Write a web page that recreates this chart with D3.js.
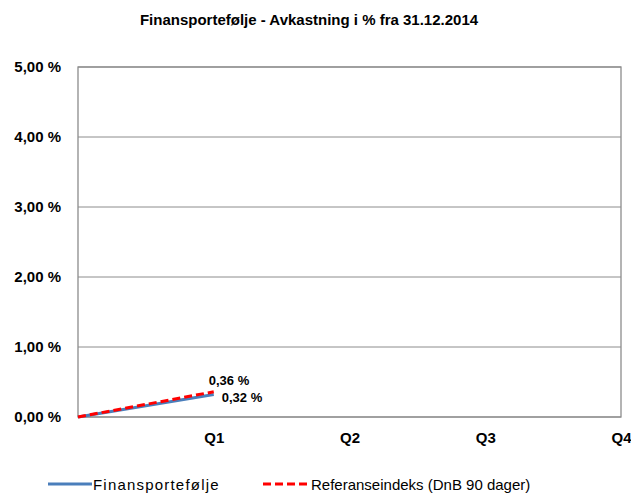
<!DOCTYPE html>
<html>
<head>
<meta charset="utf-8">
<script src="https://cdn.jsdelivr.net/npm/d3@7"></script>
<style>
body { margin: 0; background: #fff; }
text { font-family: "Liberation Sans", Arial, sans-serif; }
</style>
</head>
<body>
<div id="chart"></div>
<script>
var quarters = ['', 'Q1', 'Q2', 'Q3', 'Q4'];
var yTicks = [0, 1, 2, 3, 4, 5];
var portfolio = [0, 0.32];
var reference = [0, 0.36];
var seriesNames = ['Finansportefølje', 'Referanseindeks (DnB 90 dager)'];

var width = 631, height = 493;
var margin = { top: 67, right: 10, bottom: 76, left: 78 };
var w = width - margin.left - margin.right,
    h = height - margin.top - margin.bottom;

var svg = d3.select('#chart').append('svg')
    .attr('width', width)
    .attr('height', height);

svg.append('text')
    .attr('x', 309)
    .attr('y', 25)
    .attr('text-anchor', 'middle')
    .style('font-size', '15px')
    .style('font-weight', 'bold')
    .text('Finansportefølje - Avkastning i % fra 31.12.2014');

var g = svg.append('g')
    .attr('transform', 'translate(' + margin.left + ',' + margin.top + ')');

var x = d3.scalePoint().domain(d3.range(quarters.length)).range([0, w]);
var y = d3.scaleLinear().domain([0, 5]).range([h, 0]);

// gridlines
g.selectAll('.grid')
    .data(yTicks)
    .enter().append('line')
    .attr('x1', 0).attr('x2', w)
    .attr('y1', function(d) { return y(d); })
    .attr('y2', function(d) { return y(d); })
    .style('stroke', '#8c8c8c')
    .style('stroke-width', 1);

g.append('rect')
    .attr('width', w).attr('height', h)
    .style('fill', 'none')
    .style('stroke', '#8c8c8c')
    .style('stroke-width', 1.3);

var fmt = function(v) { return d3.format('.2f')(v).replace('.', ',') + ' %'; };

// y axis
var yAxis = g.append('g')
    .call(d3.axisLeft(y).tickValues(yTicks).tickSize(0).tickPadding(17).tickFormat(fmt));
yAxis.select('.domain').remove();
yAxis.selectAll('text')
    .style('font-size', '15px')
    .style('font-weight', 'bold')
    .style('fill', '#000');

// x axis
var xAxis = g.append('g')
    .attr('transform', 'translate(0,' + h + ')')
    .call(d3.axisBottom(x).tickSize(0).tickPadding(15)
        .tickFormat(function(d) { return quarters[d]; }));
xAxis.select('.domain').remove();
xAxis.selectAll('text')
    .style('font-size', '15px')
    .style('font-weight', 'bold')
    .style('fill', '#000');

var line = d3.line()
    .x(function(d, i) { return x(i); })
    .y(function(d) { return y(d); });

g.append('path')
    .datum(portfolio)
    .attr('d', line)
    .style('fill', 'none')
    .style('stroke', '#4a7ebb')
    .style('stroke-width', 3);

g.append('path')
    .datum(reference)
    .attr('d', line)
    .style('fill', 'none')
    .style('stroke', '#ff0000')
    .style('stroke-width', 3)
    .style('stroke-dasharray', '8,4');

// value labels
g.append('text')
    .attr('x', x(1) - 5)
    .attr('y', y(reference[1]) - 7)
    .style('font-size', '13px')
    .style('font-weight', 'bold')
    .text(fmt(reference[1]));
g.append('text')
    .attr('x', x(1) + 8)
    .attr('y', y(portfolio[1]) + 7)
    .style('font-size', '13px')
    .style('font-weight', 'bold')
    .text(fmt(portfolio[1]));

// legend
var legend = svg.append('g').attr('transform', 'translate(0,484)');
legend.append('line')
    .attr('x1', 48).attr('x2', 92)
    .style('stroke', '#4a7ebb').style('stroke-width', 3);
legend.append('text')
    .attr('x', 93).attr('y', 6)
    .style('font-size', '15px')
    .style('letter-spacing', '1.2px')
    .text(seriesNames[0]);
legend.append('line')
    .attr('x1', 263).attr('x2', 308)
    .style('stroke', '#ff0000').style('stroke-width', 3)
    .style('stroke-dasharray', '8,4');
legend.append('text')
    .attr('x', 311).attr('y', 6)
    .style('font-size', '15px')
    .text(seriesNames[1]);
</script>
</body>
</html>
